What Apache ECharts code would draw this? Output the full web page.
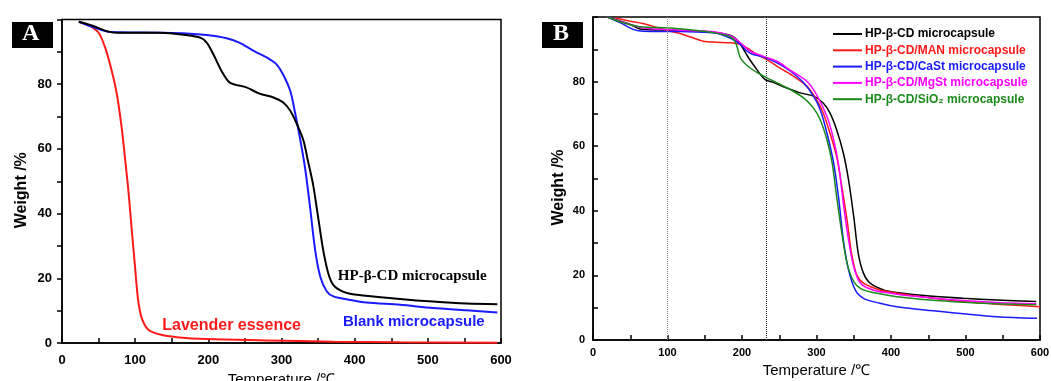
<!DOCTYPE html>
<html>
<head>
<meta charset="utf-8">
<script src="https://cdn.jsdelivr.net/npm/echarts@6/dist/echarts.min.js"></script>
<style>
html,body{margin:0;padding:0;background:#fff;}
#c{width:1051px;height:381px;}
</style>
</head>
<body>
<div id="c"></div>
<script>
// ---------- Panel A data: [temperature °C, weight %] ----------
const aHPbCD = [[23,99.3],[43,98],[61,96.4],[75,95.9],[134,95.9],[170,95.2],[189,94.4],[198,92.8],[207,89.2],[218,84.1],[229,80.5],[238,79.8],[252,79],[270,77.1],[289,75.9],[302,74.4],[312,71.8],[321,67.7],[330,62.6],[336,56.4],[343,49.2],[350,39],[357,28.7],[364,21.5],[371,17.9],[384,15.9],[403,14.9],[462,13.6],[507,12.8],[553,12.2],[595,12.0]];
const aBlank = [[23,99.3],[43,97.6],[66,96.1],[134,95.9],[170,95.7],[198,95.2],[225,94.2],[243,92.8],[262,90.3],[284,87.7],[293,86.2],[302,83.1],[312,77.9],[318,71.8],[325,63.6],[332,54.4],[339,42.1],[346,28.7],[353,20.5],[362,15.9],[371,14.4],[394,13.3],[416,12.5],[462,11.8],[507,10.8],[553,10.1],[595,9.4]];
const aLavender = [[23,99.3],[38,98],[50,95.9],[59,91.3],[68,84.1],[75,76.9],[81.5,66.7],[86,57.4],[90.7,47.2],[95,35.9],[99.8,23.6],[104,13.3],[109,7.7],[118,4.1],[134,2.6],[157,1.8],[198,1.2],[280,0.8],[371,0.4],[462,0.2],[595,0.1]];
const aNames = ['HP-β-CD microcapsule','Blank microcapsule','Lavender essence'];
// annotation anchor points (data units) for panel A labels
const aLabelPos = [[377,20.7],[384,6.6],[137,5.3]];

// ---------- Panel B data ----------
const bHPbCD = [[19,100],[50,97.7],[63,96.3],[104,95.9],[148,95.6],[175,94.8],[189,93.8],[198,91.5],[209,87.3],[220,83.7],[231,80.6],[242,79.8],[260,78],[278,76.5],[296,75.5],[309,73.4],[318,70.3],[327,65.1],[336,57.9],[343,49.6],[350,38.2],[356,26.9],[363,20.7],[372,17.6],[390,15.5],[408,14.7],[452,13.6],[497,12.9],[542,12.4],[595,11.9]];
const bMAN = [[30,99.7],[50,98.7],[72,97.7],[95,96.1],[113,95.1],[131,93.8],[148,92.5],[166,92.2],[184,92],[198,91.5],[207,90.4],[220,88.4],[233,86.8],[251,84.2],[269,81.7],[287,78.6],[300,74.4],[309,70.3],[318,64.1],[327,56.8],[334,47.5],[341,37.2],[347,26.9],[354,20.2],[363,17.6],[385,15.5],[408,14.5],[452,13.1],[497,11.9],[542,11.1],[600,10.3]];
const bCaSt = [[19,100],[37,98.2],[55,96.1],[68,95.6],[117,95.5],[162,95.1],[184,93.5],[198,91.5],[207,89.4],[215,88.4],[229,87.6],[247,85.8],[265,83.2],[283,79.6],[296,75.5],[305,71.3],[314,64.1],[323,54.8],[330,43.4],[336,31],[343,21.7],[352,15.5],[363,12.9],[385,11.4],[408,10.3],[452,9.1],[497,8.1],[542,7.2],[596,6.7]];
const bMgSt = [[19,100],[50,97.7],[68,96.6],[117,95.9],[162,95.4],[184,94.2],[198,92],[211,89.4],[229,87.8],[247,86.3],[265,83.5],[287,80.1],[300,76],[314,69.2],[323,62],[330,53.7],[336,42.4],[343,31],[350,22.7],[359,17.6],[376,15.5],[408,14.2],[452,13.1],[497,12.2],[542,11.6],[595,11.2]];
const bSiO2 = [[19,100],[41,98.2],[63,97],[104,96.6],[148,95.6],[180,94.3],[189,93],[193,91],[198,87.3],[211,84.2],[229,81.7],[247,79.6],[265,77.5],[283,74.9],[296,71.8],[305,68.2],[314,62],[321,54.8],[327,44.4],[334,33.1],[341,23.8],[350,18.1],[363,15.5],[385,14.3],[408,13.4],[452,12.4],[497,11.7],[542,11.2],[595,10.9]];
const bNames = ['HP-β-CD microcapsule','HP-β-CD/MAN microcapsule','HP-β-CD/CaSt microcapsule','HP-β-CD/MgSt microcapsule','HP-β-CD/SiO₂ microcapsule'];
const bColors = ['#000000','#ff1a1a','#1a1aff','#ff00ff','#1a8a1a'];
const bRefLines = [100, 233];

// ---------- Axis ticks ----------
const xMin = 0, xMax = 600, xStep = 100;
const yMin = 0, yMax = 100, yStep = 20;
const yHiddenLabel = 100;

const chart = echarts.init(document.getElementById('c'), null, {renderer:'canvas'});

function xAxisCfg(gi, fontSize, margin, gap){
  return {
    gridIndex: gi, type:'value', min:xMin, max:xMax, interval:xStep,
    name:'Temperature /℃', nameLocation:'middle', nameGap: gap,
    nameTextStyle:{fontFamily:'Arial, Liberation Sans', fontSize:15, color:'#000'},
    axisLine:{show:true, onZero:false, lineStyle:{color:'#000', width:1.5}},
    axisTick:{show:true, inside:true, length:5, lineStyle:{color:'#000', width:1.5}},
    minorTick:{show:true, splitNumber:2, length:5, lineStyle:{color:'#000', width:1.5}},
    axisLabel:{color:'#000', fontWeight:'bold', fontFamily:'Arial, Liberation Sans', fontSize:fontSize, margin:margin},
    splitLine:{show:false}
  };
}
function yAxisCfg(gi, fontSize, tickInside, gap, margin){
  return {
    gridIndex: gi, type:'value', min:yMin, max:yMax, interval:yStep,
    name:'Weight /%', nameLocation:'middle', nameGap:gap,
    nameTextStyle:{fontFamily:'Arial, Liberation Sans', fontSize:16, fontWeight:'bold', color:'#000', padding:[0,18,0,0]},
    axisLine:{show:true, onZero:false, lineStyle:{color:'#000', width:1.5}},
    axisTick:{show:true, inside:tickInside, length:5, lineStyle:{color:'#000', width:1.5}},
    minorTick:{show:true, splitNumber:2, length:5, lineStyle:{color:'#000', width:1.5}},
    axisLabel:{color:'#000', fontWeight:'bold', fontFamily:'Arial, Liberation Sans', fontSize:fontSize, margin:margin,
      formatter: v => (v===yHiddenLabel ? '' : String(v))},
    splitLine:{show:false}
  };
}

const aData = [aHPbCD, aBlank, aLavender];
const aColors = ['#000000','#1a1aff','#ff1a1a'];
const aLabelStyles = [
  {fontFamily:'Times New Roman, Liberation Serif, serif', fontWeight:'bold', fontSize:15, color:'#000'},
  {fontFamily:'Arial, Liberation Sans', fontWeight:'bold', fontSize:15, color:'#1a1aff'},
  {fontFamily:'Arial, Liberation Sans', fontWeight:'bold', fontSize:16, color:'#ff1a1a'}
];

const series = [];
aData.forEach((d,i)=>{
  series.push({
    type:'line', name:'A_'+aNames[i], xAxisIndex:0, yAxisIndex:0, data:d,
    showSymbol:false, smooth:0.3, lineStyle:{color:aColors[i], width:2}, itemStyle:{color:aColors[i]},
    z: 3-i,
    markPoint:{
      symbol:'circle', symbolSize:0, silent:true,
      data:[{coord:aLabelPos[i], value:aNames[i]}],
      label:Object.assign({show:true, position:'right', distance:0, formatter:aNames[i]}, aLabelStyles[i])
    }
  });
});
const bData = [bHPbCD, bMAN, bCaSt, bMgSt, bSiO2];
bData.forEach((d,i)=>{
  const s = {
    type:'line', name:bNames[i], xAxisIndex:1, yAxisIndex:1, data:d,
    showSymbol:false, smooth:0.3, lineStyle:{color:bColors[i], width:1.5}, itemStyle:{color:bColors[i]}
  };
  if(i===0){
    s.markLine = {
      silent:true, symbol:'none', label:{show:false},
      data: bRefLines.map((v,k)=>({xAxis:v, lineStyle:{type:'dotted', width:1, color: k===0?'#888':'#222'}}))
    };
  }
  series.push(s);
});

chart.setOption({
  animation:false,
  backgroundColor:'#fff',
  grid:[
    {left:62, right:550, top:19.5, bottom:38, show:true, borderColor:'#000', borderWidth:1.5, backgroundColor:'transparent', outerBoundsMode:'none', containLabel:false},
    {left:593, right:11, top:17, bottom:41, show:true, borderColor:'#000', borderWidth:1.5, backgroundColor:'transparent', outerBoundsMode:'none', containLabel:false}
  ],
  xAxis:[xAxisCfg(0,13,11,26), xAxisCfg(1,11,7,20)],
  yAxis:[yAxisCfg(0,13,false,32,10), yAxisCfg(1,11,true,26,8)],
  legend:{
    show:true, orient:'vertical', left:833, top:27, padding:0,
    itemWidth:29, itemHeight:2, itemGap:2.3, icon:'rect',
    data: bNames.map((n,i)=>({name:n, textStyle:{color:bColors[i]}})),
    textStyle:{fontFamily:'Arial, Liberation Sans', fontWeight:'bold', fontSize:12, lineHeight:14, padding:[0,0,0,-2]}
  },
  graphic:[
    {type:'rect', left:12, top:22, shape:{width:41, height:26}, style:{fill:'#000'}},
    {type:'text', left:22, top:22, style:{text:'A', fill:'#fff', font:'bold 24px "Times New Roman", "Liberation Serif", serif'}},
    {type:'rect', left:542, top:22, shape:{width:41, height:26}, style:{fill:'#000'}},
    {type:'text', left:553, top:22, style:{text:'B', fill:'#fff', font:'bold 24px "Times New Roman", "Liberation Serif", serif'}}
  ],
  series: series
});
</script>
</body>
</html>
